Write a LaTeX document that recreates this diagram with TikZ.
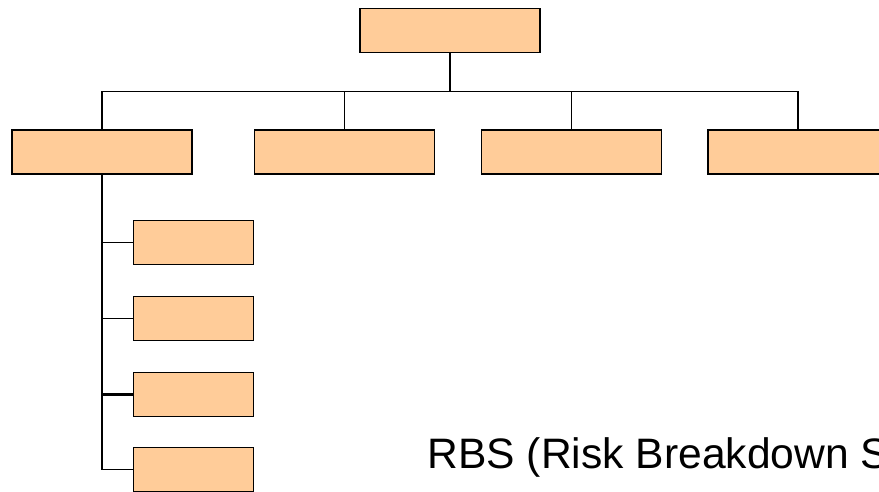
\documentclass[tikz,border=0pt]{standalone}
\usepackage{fontspec}
\setmainfont{Liberation Sans}
\usepackage{xcolor}
\usetikzlibrary{positioning}

\definecolor{boxfill}{HTML}{FFCC99}

\begin{document}
\begin{tikzpicture}[x=1pt,y=-1pt,line width=1.2pt]
			\tikzstyle{unit}=[draw,line width=1.8pt,fill=boxfill,minimum width=180pt,minimum height=44pt,inner sep=0pt]
			\tikzstyle{subunit}=[unit,minimum width=120pt]
			\useasboundingbox (0,0) rectangle (879,491);
			\clip (0,0) rectangle (879,491);
			
			\node[unit] (R) at (450,30.5) {};
			\node[unit] (C1) at (102,152) {};
			\node[unit] (C2) at (344.5,152) {};
			\node[unit] (C3) at (571.5,152) {};
			\node[unit] (C4) at (798,152) {};
			\node[subunit] (S1) at (193.5,242.5) {};
			\node[subunit] (S2) at (193.5,318.5) {};
			\node[subunit] (S3) at (193.5,394.5) {};
			\node[subunit] (S4) at (193.5,469.5) {};
			\coordinate (bus) at (450,91.5);
			
			\draw[line width=1.8pt] (R.south) -- (bus);
			\draw (bus) -| (C1.north)
			(bus) -| (C2.north)
			(bus) -| (C3.north)
			(bus) -| (C4.north);
			\draw (C1.south) |- (S4.west);
			\draw[line width=2.2pt] (C1.south) |- (S3.west);
			\draw[line width=1.5pt] (C1.south) |- (S1.west)
			(C1.south) |- (S2.west);
			
			\node[anchor=base west,inner sep=0pt,font=\fontsize{42.6}{50}\selectfont] (title) at (427,468) {RBS (Risk Breakdown Structure)};
		\end{tikzpicture}
\end{document}
